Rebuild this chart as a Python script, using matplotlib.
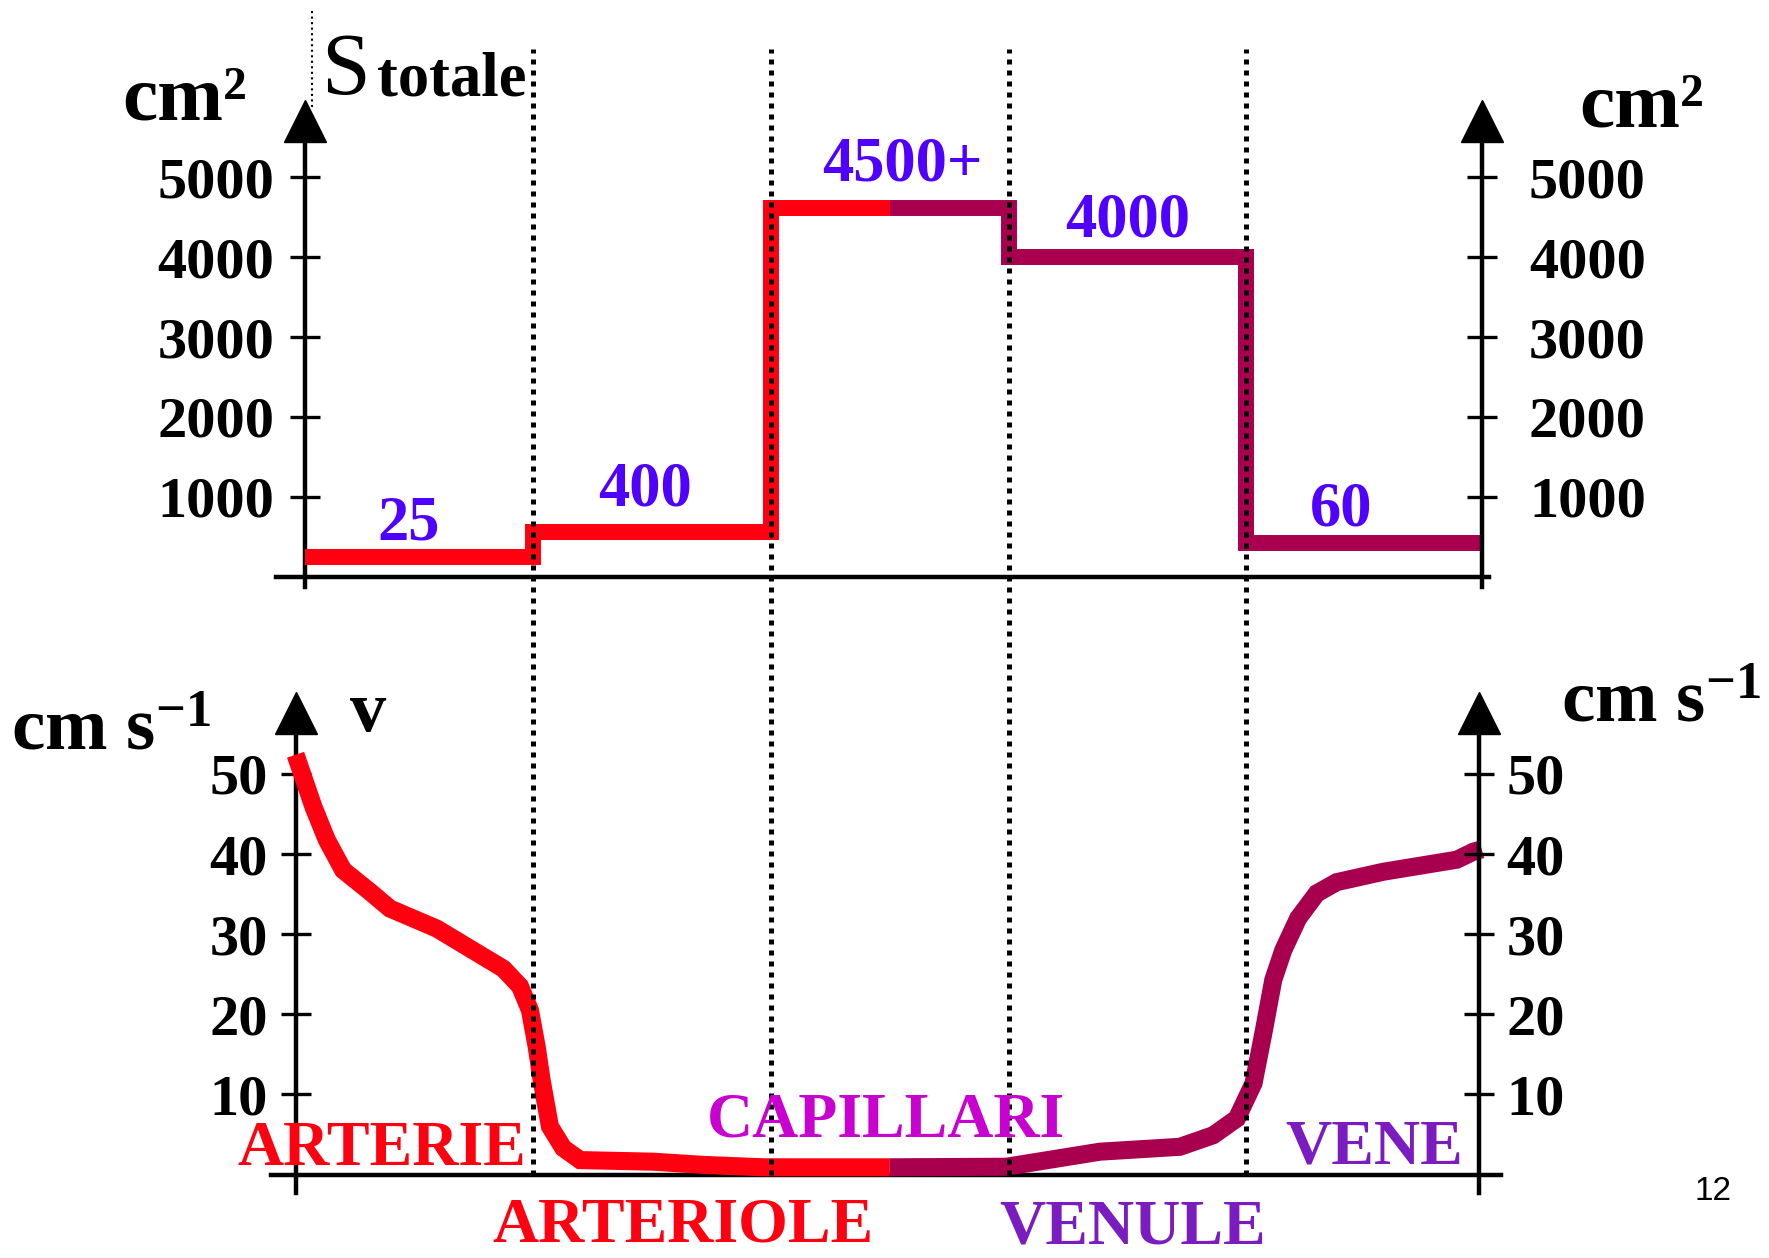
import numpy as np
import matplotlib
matplotlib.use("Agg")
import matplotlib.pyplot as plt

# ─────────────────────────────────────────────
# CONFIG
# ─────────────────────────────────────────────

RED = "#FF0010"
WINE = "#A8004F"
BLUE = "#5000FF"
MAGENTA = "#C800D0"
VIOLET = "#7A1CC0"

plt.rcParams["font.family"] = "Liberation Serif"
plt.rcParams["font.weight"] = "bold"
plt.rcParams["mathtext.fontset"] = "custom"
plt.rcParams["mathtext.rm"] = "Liberation Serif:bold"
plt.rcParams["mathtext.default"] = "rm"

# reference frame is 1568 x 1115 (layout measured there)
W, H = 1568, 1115
U0_PX, U_PX = 262, 210.7          # x pixel of section 0, px per section

# ─────────────────────────────────────────────
# DATA
# ─────────────────────────────────────────────

vessels = ["ARTERIE", "ARTERIOLE", "CAPILLARI", "VENULE", "VENE"]
vessel_colors = [RED, RED, MAGENTA, VIOLET, VIOLET]

# total cross section (drawn levels, cm2) and printed values
section_edges = [0.04, 1, 2, 3, 4, 5.0]
area_levels = [250, 560, 4620, 4000, 420]
area_labels = ["25", "400", "4500+", "4000", "60"]
area_ticks = [1000, 2000, 3000, 4000, 5000]

# velocity (cm/s) along the circuit
art_u = [0.0, 0.075, 0.131, 0.20, 0.313, 0.397, 0.594, 0.734, 0.874, 0.944,
         0.986, 1.014, 1.035, 1.07, 1.126, 1.197, 1.505, 1.715, 1.968, 2.5]
art_v = [52.4, 45.9, 41.8, 38.0, 35.3, 33.2, 30.7, 28.2, 25.7, 23.5,
         20.5, 16.0, 11.8, 6.0, 3.3, 1.8, 1.6, 1.2, 0.9, 0.9]
ven_u = [2.5, 2.99, 3.384, 3.72, 3.86, 3.96, 4.03, 4.071, 4.113, 4.155,
         4.218, 4.296, 4.38, 4.577, 4.885, 4.955, 4.99]
ven_v = [0.9, 0.97, 2.85, 3.46, 4.9, 7.0, 11.4, 17.6, 24.3, 28.0,
         32.0, 35.1, 36.5, 37.8, 39.3, 40.3, 40.6]
speed_ticks = [10, 20, 30, 40, 50]

SPLIT = 2.5   # arterial / venous colour change

# ─────────────────────────────────────────────
# LAYOUT HELPERS
# ─────────────────────────────────────────────

def fx(px):
    return px / W

def fy(py):
    return 1 - py / H

def make_axes(fig, xlim, y_zero_px, px_per_unit, ylim):
    left = U0_PX + xlim[0] * U_PX
    right = U0_PX + xlim[1] * U_PX
    top = y_zero_px - ylim[1] * px_per_unit
    bot = y_zero_px - ylim[0] * px_per_unit
    ax = fig.add_axes([fx(left), fy(bot), (right - left) / W, (bot - top) / H])
    ax.set_xlim(xlim)
    ax.set_ylim(ylim)
    return ax

def style_frame(ax, ticks, left_u, right_u, pad_l, pad_r):
    ax.patch.set_visible(False)
    for s in ["top", "right"]:
        ax.spines[s].set_visible(False)
    ax.spines["left"].set_position(("data", left_u))
    ax.spines["bottom"].set_position(("data", 0))
    for s in ["left", "bottom"]:
        ax.spines[s].set_linewidth(3.2)
    ax.set_xticks([])
    ax.set_yticks(ticks)
    ax.tick_params(axis="y", direction="inout", length=21, width=2.4,
                   pad=pad_l, labelsize=42)

    tw = ax.twinx()
    tw.patch.set_visible(False)
    tw.set_ylim(ax.get_ylim())
    for s in ["top", "left", "bottom"]:
        tw.spines[s].set_visible(False)
    tw.spines["right"].set_position(("data", right_u))
    tw.spines["right"].set_linewidth(3.2)
    tw.set_yticks(ticks)
    tw.tick_params(axis="y", direction="inout", length=21, width=2.4,
                   pad=pad_r, labelsize=42)
    return tw

def arrow_head(ax, u, y):
    ax.plot([u], [y], marker="^", ms=30, color="black", clip_on=False, zorder=5)

fig = plt.figure(figsize=(17.69, 12.58), dpi=100)

# ─────────────────────────────────────────────
# 1. TOTAL CROSS SECTION
# ─────────────────────────────────────────────

ax_s = make_axes(fig, (-0.081, 5.021), 511, 0.07075, (-130, 5450))
tw_s = style_frame(ax_s, area_ticks, 0.038, 4.99, 11.5, 23.5)

edges = np.array(section_edges)
levels = np.array(area_levels)
k = np.searchsorted(edges, SPLIT)
for e, v, c in [(np.r_[edges[:k], SPLIT], levels[:k], RED),
                (np.r_[SPLIT, edges[k:]], levels[k - 1:], WINE)]:
    st = ax_s.stairs(v, e, baseline=None, color=c, lw=11.5, zorder=3)
    st.set_joinstyle("miter")
    st.set_capstyle("butt")

label_pos = [(0.475, 466), (1.47, 890), (2.553, 4961), (3.50, 4254), (4.40, 636)]
for (u, y), txt in zip(label_pos, area_labels):
    ax_s.text(u, y, txt, color=BLUE, fontsize=45, ha="center", va="baseline")

arrow_head(ax_s, 0.038, 5711)
arrow_head(ax_s, 4.99, 5711)
ax_s.plot([0.071, 0.071], [5880, 7081], ls=":", color="black", lw=1.5,
          clip_on=False)

fig.text(fx(108), fy(106), "cm²", fontsize=57, va="baseline")
fig.text(fx(1400), fy(112), "cm²", fontsize=57, va="baseline")
fig.text(fx(285), fy(83), "S", fontsize=63, fontweight="normal", va="baseline")
fig.text(fx(334), fy(85), "totale", fontsize=45, va="baseline")

# ─────────────────────────────────────────────
# 2. VELOCITY
# ─────────────────────────────────────────────

ax_v = make_axes(fig, (-0.104, 5.069), 1041, 7.1, (-2.25, 55))
tw_v = style_frame(ax_v, speed_ticks, 0.0, 4.98, 9.5, 9)

ax_v.plot(art_u, art_v, color=RED, lw=13, solid_joinstyle="miter",
          solid_capstyle="butt", zorder=3)
ax_v.plot(ven_u, ven_v, color=WINE, lw=13, solid_joinstyle="miter",
          solid_capstyle="butt", zorder=3)

arrow_head(ax_v, 0.0, 57.6)
arrow_head(ax_v, 4.98, 57.6)

# section dividers, running through both panels
ax_v.vlines(section_edges[1:-1], 0, 140.5, colors="black",
            linestyles=(0, (1, 1.2)), lw=3.6, clip_on=False, zorder=6)

fig.text(fx(10), fy(665), r"cm s$^{-1}$", fontsize=54, va="baseline")
fig.text(fx(1384), fy(640), r"cm s$^{-1}$", fontsize=54, va="baseline")
fig.text(fx(310), fy(648), "v", fontsize=52, va="baseline")

name_pos = [(338, 1033), (605, 1100), (785, 1007), (1004, 1102), (1218, 1031)]
for (x, y), name, c in zip(name_pos, vessels, vessel_colors):
    fig.text(fx(x), fy(y), name, color=c, fontsize=46, ha="center", va="baseline")

fig.text(fx(1518), fy(1064), "12", fontsize=24, fontweight="normal",
         family="Liberation Sans", ha="center", va="baseline")

fig.savefig("out.png", dpi=100)
